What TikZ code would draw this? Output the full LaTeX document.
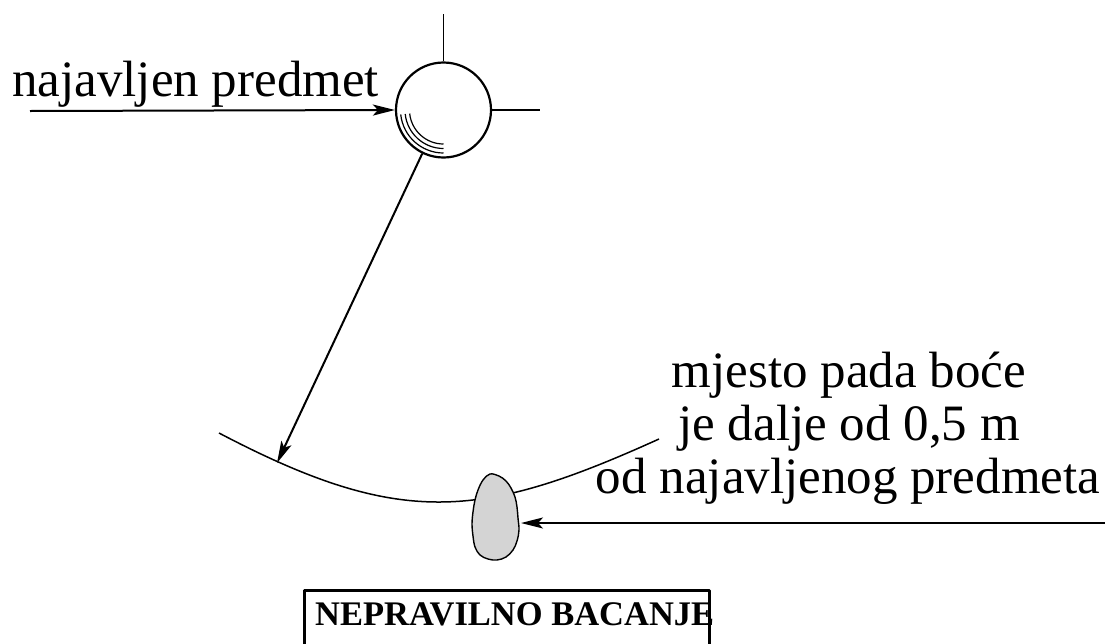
\documentclass[tikz,border=0pt]{standalone}
\usepackage{fontspec}
\setmainfont{Liberation Serif}
\usetikzlibrary{arrows.meta}
\begin{document}
\begin{tikzpicture}[x=1pt,y=-1pt,line join=round,
  thin line/.style={line width=1.5pt},
  conn/.style={line width=2pt,-{Stealth[length=22pt,width=11pt,inset=5pt]}},
  lbl/.style={font=\fontsize{51}{53}\selectfont,inner sep=0},
  ball/.style={circle,draw,line width=2.2pt,minimum size=95pt,inner sep=0},
  framebox/.style={draw,line width=3pt,inner sep=0,minimum width=405pt,minimum height=90pt}]
\useasboundingbox (0,0) rectangle (1105,643);
\clip (0,0) rectangle (1105,643);

% announced object
\node[ball] (obj) at (443.5,110) {};
\coordinate (topend) at (443.5,14);
\coordinate (rightend) at (540,110);
\draw[thin line] (obj.north) -- (topend);
\draw[thin line] (obj.east) -- (rightend);
\foreach \r in {43,38.5,34}
  \draw[line width=1.2pt] (obj.center) ++(174:\r) arc[start angle=174,end angle=90,radius=\r];

% label and arrow
\node[lbl,anchor=base west] (lab1) at (12,96) {najavljen predmet};
\coordinate (arrstart) at (30,111);
\draw[conn] (arrstart) -- (obj.west);

% landing arc
\coordinate (arcL) at (219,433);
\coordinate (arcR) at (659,439);
\draw[thin line] (arcL) .. controls (400,528) and (480,520) .. (arcR);

% throw direction
\coordinate (hit) at (277,463);
\draw[conn] (obj.244) -- (hit);

% bottle landing spot
\draw[line width=1.4pt,fill=black!17]
  plot[smooth cycle,tension=0.6] coordinates {
   (490,474) (499,476) (506,481) (511,488) (515,497) (517,507) (518,518)
   (519,530) (517,541) (513,550) (506,557) (497,560) (488,559) (480,555)
   (475,547) (473,536) (472,524) (473,512) (475,500) (478,490) (483,480)};
\coordinate (stoneE) at (521,523);
\coordinate (rstart) at (1105,523);
\draw[conn] (rstart) -- (stoneE);

% right text
\node[lbl,anchor=base] (t1) at (849,387) {mjesto pada boće};
\node[lbl,anchor=base] (t2) at (849,440) {je dalje od 0,5 m};
\node[lbl,anchor=base] (t3) at (848,493) {od najavljenog predmeta};

% verdict box
\node[framebox,anchor=north west] (box) at (303,589) {};
\node[anchor=base west,inner sep=0,font=\fontsize{34.5}{36}\selectfont\bfseries] (verdict) at (315,625) {NEPRAVILNO BACANJE};
\end{tikzpicture}
\end{document}
